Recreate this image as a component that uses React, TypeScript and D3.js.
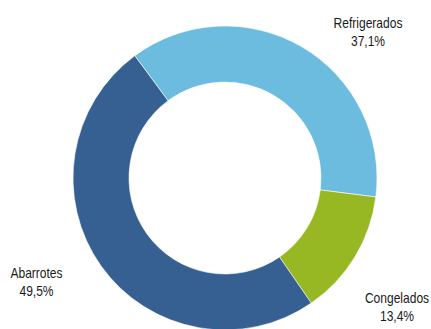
import React from "react";
import * as d3 from "d3";

const categories = ["Refrigerados", "Congelados", "Abarrotes"];
const values = [37.1, 13.4, 49.5];
const valueLabels = ["37,1%", "13,4%", "49,5%"];
const colors = ["#6BBCDF", "#97B723", "#376092"];

const W = 431;
const H = 329;
const cx = 225;
const cy = 178;
const outerR = 152;
const innerR = 96;
const startDeg = -36.4;

// label centers (layout)
const labelPos: [number, number][] = [
  [368, 27.5],
  [397, 302.5],
  [36.5, 277.5],
];

export default function App() {
  const start = (startDeg * Math.PI) / 180;
  const pie = d3
    .pie<number>()
    .sort(null)
    .value((d) => d)
    .startAngle(start)
    .endAngle(start + 2 * Math.PI);
  const arcs = pie(values);
  const arc = d3.arc<d3.PieArcDatum<number>>().innerRadius(innerR).outerRadius(outerR);

  return (
    <svg
      width={W}
      height={H}
      style={{ position: "absolute", left: 0, top: 0, display: "block", background: "#fff" }}
    >
      <g transform={`translate(${cx},${cy})`}>
        {arcs.map((a, i) => (
          <path key={i} d={arc(a) || ""} fill={colors[i]} stroke="#fff" strokeWidth={0.6} />
        ))}
      </g>
      {arcs.map((a, i) => (
        <g
          key={"l" + i}
          transform={`translate(${labelPos[i][0]},${labelPos[i][1]}) scale(0.86,1)`}
          fontFamily="'Liberation Sans', Arial, sans-serif"
          fontSize={14}
          fill="#1a1a1a"
          textAnchor="middle"
        >
          <text x={0} y={0}>{categories[i]}</text>
          <text x={0} y={18.5}>{valueLabels[i]}</text>
        </g>
      ))}
    </svg>
  );
}
